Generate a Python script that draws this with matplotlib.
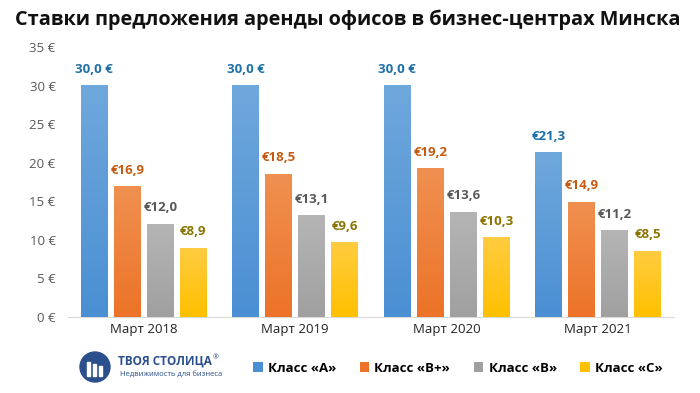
import numpy as np
import matplotlib.pyplot as plt
from matplotlib.patches import Circle, Rectangle
from matplotlib.colors import LinearSegmentedColormap

plt.rcParams['font.family'] = ['Open Sans', 'DejaVu Sans']

# Data
periods = ["Март 2018", "Март 2019", "Март 2020", "Март 2021"]
classes = ["Класс «A»", "Класс «B+»", "Класс «B»", "Класс «C»"]
class_a = [30.0, 30.0, 30.0, 21.3]
class_bp = [16.9, 18.5, 19.2, 14.9]
class_b = [12.0, 13.1, 13.6, 11.2]
class_c = [8.9, 9.6, 10.3, 8.5]
yticks = [0, 5, 10, 15, 20, 25, 30, 35]

series = [class_a, class_bp, class_b, class_c]
bar_colors = ["#4a8fd3", "#ec7328", "#a0a0a0", "#ffc000"]
top_colors = ["#6fa8dc", "#f09050", "#b5b5b5", "#ffcc40"]
label_colors = ["#1f6fa8", "#c55a11", "#595959", "#8a7400"]

fig = plt.figure(figsize=(7, 3.93), dpi=100)
ax = fig.add_axes([68 / 700, 1 - 317 / 393, (674 - 68) / 700, 270 / 393])

x = np.arange(len(periods))
width = 0.178
step = 0.218
grad = np.linspace(1, 0, 100).reshape(-1, 1)
for i, vals in enumerate(series):
    pos = x + (i - 1.5) * step
    bars = ax.bar(pos, vals, width, color=bar_colors[i], label=classes[i], zorder=2)
    # soft vertical gradient like the original
    cmap = LinearSegmentedColormap.from_list("g", [bar_colors[i], top_colors[i]])
    for b in bars:
        x0, w, h = b.get_x(), b.get_width(), b.get_height()
        ax.imshow(grad, extent=[x0, x0 + w, 0, h], cmap=cmap, aspect="auto",
                  zorder=3, vmin=0, vmax=1)
    for p, v in zip(pos, vals):
        if i == 0 and v == 30.0:
            txt = "30,0 €"
        else:
            txt = "€" + f"{v:.1f}".replace(".", ",")
        ax.text(p, v + 1.3, txt, ha="center", va="bottom", fontsize=9.5,
                fontweight="bold", color=label_colors[i])

ax.set_xlim(-0.5, len(periods) - 0.5)
ax.set_ylim(0, 35)
ax.set_yticks(yticks)
ax.set_yticklabels([f"{t} €" for t in yticks], color="#595959", fontsize=9.5)
ax.set_xticks(x)
ax.set_xticklabels(periods, fontsize=9.5, color="#222222")
ax.tick_params(length=0)
ax.tick_params(axis="y", pad=9)
ax.tick_params(axis="x", pad=4)
for s in ["top", "right", "left"]:
    ax.spines[s].set_visible(False)
ax.spines["bottom"].set_color("#d9d9d9")

fig.suptitle("Ставки предложения аренды офисов в бизнес-центрах Минска",
             x=0.497, y=0.975, fontsize=14.3, fontweight="bold", color="#111111")

# legend
leg = fig.legend(loc="center", bbox_to_anchor=(458 / 700, 1 - 368 / 393), ncol=4,
                 frameon=False, handlelength=0.7, handleheight=0.7,
                 columnspacing=1.8, handletextpad=0.4, prop={"weight": "bold", "size": 9.5})

# logo
lx, ly, r = 95, 367, 15
fig.patches.append(Circle((lx, 393 - ly), r, transform=None, color="#2b4f8c", zorder=3))
for k in range(3):
    fig.patches.append(Rectangle((lx - 8 + k * 6, 393 - ly - 9), 3, 14 - k * 2, transform=None,
                                 color="white", zorder=4))
fig.text(118 / 700, 1 - 361 / 393, "ТВОЯ СТОЛИЦА", fontsize=8.5, fontweight="bold",
         color="#2b4f8c", va="center")
fig.text(213 / 700, 1 - 358 / 393, "®", fontsize=5, color="#2b4f8c", va="center")
fig.text(120 / 700, 1 - 375 / 393, "Недвижимость для бизнеса", fontsize=5.5,
         color="#2b4f8c", va="center")

fig.savefig("out.png", dpi=100)
